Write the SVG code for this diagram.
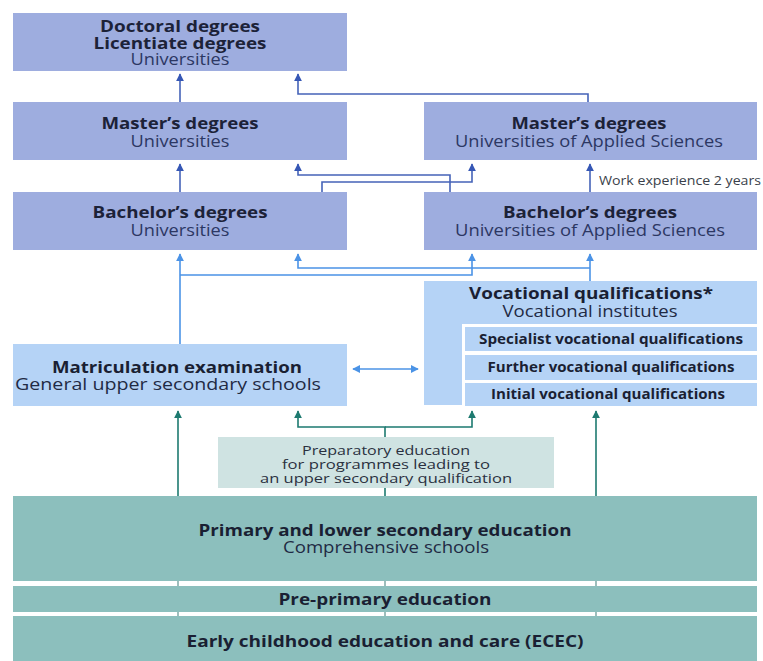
<svg xmlns="http://www.w3.org/2000/svg" width="763" height="661" viewBox="0 0 763 661">
<defs>
<style>
.top{fill:#9eaddf}
.mid{fill:#b5d3f6}
.teal{fill:#8cbfbd}
.prep{fill:#cfe3e2}
text{font-family:"Open Sans","Liberation Sans",sans-serif;text-anchor:middle}
.tb{font-weight:bold;font-size:15.5px;fill:#1c2238}
.tr{font-size:15.5px;fill:#2c3763}
.lb{font-weight:bold;font-size:16px;fill:#1a1f33}
.lr{font-size:15.5px;fill:#1f2a44}
.sb{font-weight:bold;font-size:13.5px;fill:#1a1f33}
.pr{font-size:13px;fill:#2a3040}
.dk{fill:none;stroke:#4563b8;stroke-width:1.6}
.lt{fill:none;stroke:#4b93e6;stroke-width:1.6}
.tl{fill:none;stroke:#1d7a70;stroke-width:1.6}
</style>
<marker id="ad" viewBox="0 0 10 10" refX="9" refY="5" markerWidth="5" markerHeight="5" orient="auto"><path d="M0,0L10,5L0,10z" fill="#3657b5"/></marker>
<marker id="al" viewBox="0 0 10 10" refX="9" refY="5" markerWidth="5" markerHeight="5" orient="auto"><path d="M0,0L10,5L0,10z" fill="#4b93e6"/></marker>
<marker id="als" viewBox="0 0 10 10" refX="1" refY="5" markerWidth="5" markerHeight="5" orient="auto"><path d="M10,0L0,5L10,10z" fill="#4b93e6"/></marker>
<marker id="at" viewBox="0 0 10 10" refX="9" refY="5" markerWidth="5" markerHeight="5" orient="auto"><path d="M0,0L10,5L0,10z" fill="#1d7a70"/></marker>
</defs>
<rect width="763" height="661" fill="#ffffff"/>

<g id="connectors">
<path class="dk" d="M180,102V74" marker-end="url(#ad)"/>
<path class="dk" d="M588,102V94H298V74" marker-end="url(#ad)"/>
<path class="dk" d="M180,192V164" marker-end="url(#ad)"/>
<path class="dk" d="M450,192V175H298V164" marker-end="url(#ad)"/>
<path class="dk" d="M322,192V182H472V164" marker-end="url(#ad)"/>
<path class="dk" d="M590,192V164" marker-end="url(#ad)"/>
<path class="lt" d="M180,344V254" marker-end="url(#al)"/>
<path class="lt" d="M180,275H472V254" marker-end="url(#al)"/>
<path class="lt" d="M590,281V254" marker-end="url(#al)"/>
<path class="lt" d="M590,268H298V254" marker-end="url(#al)"/>
<path class="lt" d="M353,369H418" marker-start="url(#als)" marker-end="url(#al)"/>
<path class="tl" d="M178,496V411" marker-end="url(#at)"/>
<path class="tl" d="M596,496V411" marker-end="url(#at)"/>
<path class="tl" d="M385,437V427H298V411" marker-end="url(#at)"/>
<path class="tl" d="M385,427H472V411" marker-end="url(#at)"/>
<path class="tl" d="M385,488V496"/>
<path d="M178,581V586M385,581V586M596,581V586M178,612V616M385,612V616M596,612V616" stroke="#7fa9a6" stroke-width="1.5" fill="none"/>
<text x="599" y="185" textLength="162" lengthAdjust="spacingAndGlyphs" style="font-size:13px;fill:#3a3f4a;text-anchor:start">Work experience 2 years</text>
</g>

<g id="doctoral">
<rect class="top" x="13" y="13" width="334" height="58"/>
<text class="tb" x="180" y="32" textLength="160" lengthAdjust="spacingAndGlyphs">Doctoral degrees</text>
<text class="tb" x="180" y="48.5" textLength="173" lengthAdjust="spacingAndGlyphs">Licentiate degrees</text>
<text class="tr" x="180" y="65" textLength="99" lengthAdjust="spacingAndGlyphs">Universities</text>
</g>
<g id="master-univ">
<rect class="top" x="13" y="102" width="334" height="58"/>
<text class="tb" x="180" y="129" textLength="157" lengthAdjust="spacingAndGlyphs">Master’s degrees</text>
<text class="tr" x="180" y="147" textLength="99" lengthAdjust="spacingAndGlyphs">Universities</text>
</g>
<g id="master-uas">
<rect class="top" x="424" y="102" width="333" height="58"/>
<text class="tb" x="589" y="129" textLength="155" lengthAdjust="spacingAndGlyphs">Master’s degrees</text>
<text class="tr" x="589" y="147" textLength="268" lengthAdjust="spacingAndGlyphs">Universities of Applied Sciences</text>
</g>
<g id="bachelor-univ">
<rect class="top" x="13" y="192" width="334" height="58"/>
<text class="tb" x="180" y="218" textLength="175" lengthAdjust="spacingAndGlyphs">Bachelor’s degrees</text>
<text class="tr" x="180" y="236" textLength="99" lengthAdjust="spacingAndGlyphs">Universities</text>
</g>
<g id="bachelor-uas">
<rect class="top" x="424" y="192" width="333" height="58"/>
<text class="tb" x="590" y="218" textLength="174" lengthAdjust="spacingAndGlyphs">Bachelor’s degrees</text>
<text class="tr" x="590" y="236" textLength="270" lengthAdjust="spacingAndGlyphs">Universities of Applied Sciences</text>
</g>
<g id="vocational">
<path class="mid" d="M424,281H757V324H462V405H424Z"/>
<text class="lb" x="591" y="299" textLength="244" lengthAdjust="spacingAndGlyphs">Vocational qualifications*</text>
<text class="lr" x="590" y="317" textLength="175" lengthAdjust="spacingAndGlyphs">Vocational institutes</text>
</g>
<g id="specialist">
<rect class="mid" x="465" y="327" width="292" height="24"/>
<text class="sb" x="611" y="344" textLength="264" lengthAdjust="spacingAndGlyphs">Specialist vocational qualifications</text>
</g>
<g id="further">
<rect class="mid" x="465" y="355" width="292" height="25"/>
<text class="sb" x="611" y="372" textLength="247" lengthAdjust="spacingAndGlyphs">Further vocational qualifications</text>
</g>
<g id="initial">
<rect class="mid" x="465" y="383" width="292" height="23"/>
<text class="sb" x="608" y="399" textLength="234" lengthAdjust="spacingAndGlyphs">Initial vocational qualifications</text>
</g>
<g id="matriculation">
<rect class="mid" x="13" y="344" width="334" height="62"/>
<text class="lb" x="177" y="373" textLength="250" lengthAdjust="spacingAndGlyphs">Matriculation examination</text>
<text class="lr" x="168" y="390" textLength="306" lengthAdjust="spacingAndGlyphs">General upper secondary schools</text>
</g>
<g id="preparatory">
<rect class="prep" x="218" y="437" width="336" height="51"/>
<text class="pr" x="386" y="455" textLength="168" lengthAdjust="spacingAndGlyphs">Preparatory education</text>
<text class="pr" x="386" y="469" textLength="208" lengthAdjust="spacingAndGlyphs">for programmes leading to</text>
<text class="pr" x="386" y="483" textLength="252" lengthAdjust="spacingAndGlyphs">an upper secondary qualification</text>
</g>
<g id="primary">
<rect class="teal" x="13" y="496" width="744" height="85"/>
<text class="lb" x="385" y="536" textLength="373" lengthAdjust="spacingAndGlyphs">Primary and lower secondary education</text>
<text class="lr" x="386" y="553" textLength="206" lengthAdjust="spacingAndGlyphs">Comprehensive schools</text>
</g>
<g id="preprimary">
<rect class="teal" x="13" y="586" width="744" height="26"/>
<text class="lb" x="385" y="605" textLength="213" lengthAdjust="spacingAndGlyphs">Pre-primary education</text>
</g>
<g id="ecec">
<rect class="teal" x="13" y="616" width="744" height="45"/>
<text class="lb" x="385" y="647" textLength="397" lengthAdjust="spacingAndGlyphs">Early childhood education and care (ECEC)</text>
</g>
</svg>
